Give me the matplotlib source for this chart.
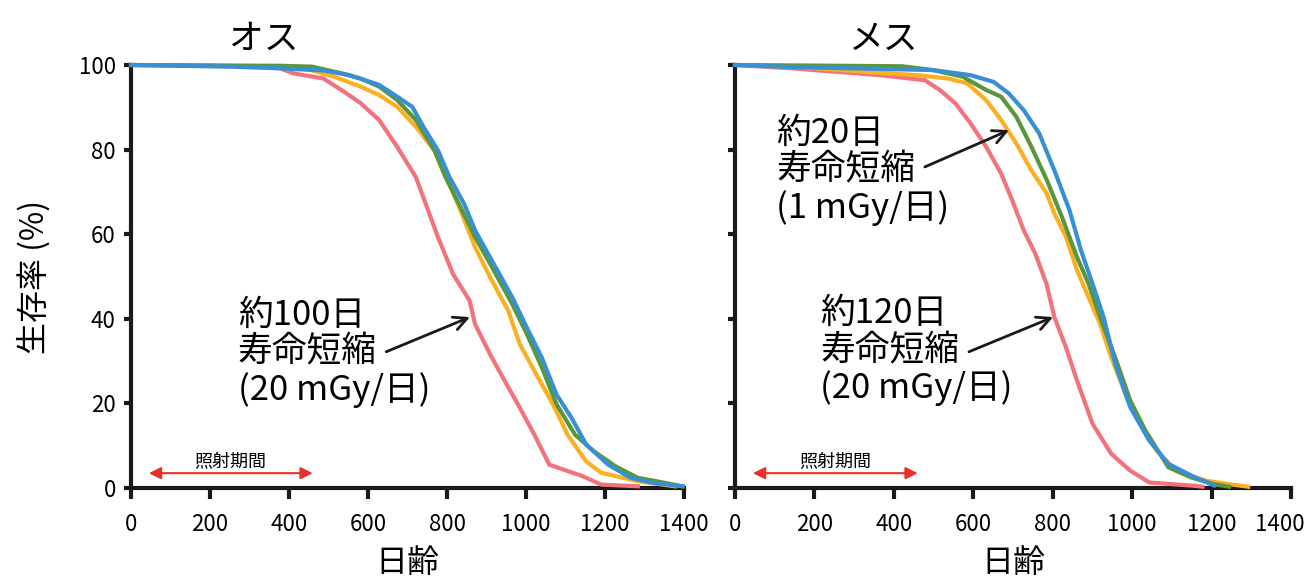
import matplotlib
matplotlib.use("Agg")
import matplotlib.pyplot as plt
import matplotlib.transforms as mtransforms

plt.rcParams['font.family'] = ['Noto Sans CJK JP', 'DejaVu Sans']

# ---- Male (オス) survival curves: day, survival %
m_red_day = [0, 365, 412, 487, 534, 581, 628, 674, 721, 749, 777, 815, 857, 871, 909, 946, 984, 1021, 1059, 1096, 1143, 1190, 1283]
m_red_sv = [100, 99.6, 98, 96.8, 94, 91, 87, 80.6, 73.5, 66.4, 59.3, 50.6, 44.3, 38.7, 31.6, 25.3, 19, 12.6, 5.5, 4.3, 2.8, 0.8, 0.4]
m_org_day = [0, 300, 440, 515, 581, 628, 674, 721, 768, 806, 834, 871, 909, 955, 984, 1021, 1068, 1105, 1152, 1190, 1283, 1377]
m_org_sv = [100, 99.7, 99.2, 97.2, 94.9, 92.9, 90.1, 85.4, 79.8, 71.9, 65.6, 56.9, 49.8, 41.9, 34, 27.7, 19.8, 12.6, 6.3, 3.6, 1.6, 0.4]
m_grn_day = [0, 384, 459, 534, 581, 628, 674, 721, 768, 796, 834, 871, 909, 965, 1002, 1040, 1077, 1124, 1171, 1227, 1283, 1330, 1396]
m_grn_sv = [100, 99.8, 99.6, 98, 96.8, 94.9, 91.7, 87, 79.8, 73.5, 66.4, 59.3, 53, 43.5, 36.4, 28.5, 19.8, 12.6, 8.7, 5.1, 2.4, 1.6, 0.4]
m_blu_day = [0, 253, 375, 487, 553, 628, 674, 712, 740, 777, 806, 843, 871, 918, 965, 1002, 1040, 1077, 1115, 1152, 1208, 1265, 1321, 1396]
m_blu_sv = [100, 99.6, 99.2, 98.7, 97.6, 95.3, 92.5, 90.1, 85.4, 79.8, 73.5, 67.2, 60.9, 53, 45.1, 37.9, 30.8, 22.1, 16.6, 10.3, 5.5, 2.4, 1.2, 0.4]

# ---- Female (メス) survival curves
f_red_day = [0, 144, 364, 478, 517, 555, 593, 632, 670, 698, 727, 756, 784, 804, 833, 861, 900, 947, 995, 1043, 1158, 1177]
f_red_sv = [100, 99.2, 97.6, 96.4, 94, 90.9, 86.2, 80.7, 74.3, 68, 60.9, 55.4, 48.3, 40.4, 33.3, 25.4, 15.2, 8.1, 4.1, 1.3, 0.5, 0.3]
f_org_day = [0, 144, 325, 459, 536, 584, 632, 670, 708, 746, 785, 804, 833, 861, 890, 919, 947, 986, 1024, 1062, 1110, 1187, 1244, 1292]
f_org_sv = [100, 99.6, 98.4, 97.6, 96.8, 95.7, 91.7, 87, 81.5, 75.1, 69.6, 64.9, 59.4, 51.5, 45.1, 38.8, 30.9, 21.5, 14.4, 8.8, 4.1, 1.7, 0.9, 0.3]
f_grn_day = [0, 421, 498, 574, 632, 670, 708, 746, 785, 823, 861, 890, 919, 957, 995, 1033, 1091, 1148, 1206, 1244]
f_grn_sv = [100, 99.7, 98.8, 97.2, 94.1, 92.5, 87.8, 80.7, 72.8, 64.1, 54.6, 48.3, 40.4, 30.9, 20.7, 13.6, 4.9, 2.5, 0.9, 0.3]
f_blu_day = [0, 144, 498, 593, 651, 689, 727, 766, 804, 842, 871, 900, 928, 957, 995, 1043, 1091, 1158, 1206]
f_blu_sv = [100, 99.5, 98.8, 97.6, 96, 93.3, 89.3, 83.8, 75.1, 65.7, 56.2, 48.3, 40.4, 29.4, 19.1, 11.2, 5.7, 2.5, 0.6]

x_ticks = [0, 200, 400, 600, 800, 1000, 1200, 1400]
y_ticks = [0, 20, 40, 60, 80, 100]
titles = ['オス', 'メス']

C_RED = '#F2737B'
C_ORG = '#FBB022'
C_GRN = '#5B963D'
C_BLU = '#3890D4'

fig = plt.figure(figsize=(13.13, 5.87), dpi=100)
ax1 = fig.add_axes([0.0998, 0.1687, 0.4212, 0.7206])
ax2 = fig.add_axes([0.5598, 0.1687, 0.4235, 0.7206])

male = [(m_red_day, m_red_sv, C_RED), (m_org_day, m_org_sv, C_ORG),
        (m_grn_day, m_grn_sv, C_GRN), (m_blu_day, m_blu_sv, C_BLU)]
female = [(f_red_day, f_red_sv, C_RED), (f_org_day, f_org_sv, C_ORG),
          (f_grn_day, f_grn_sv, C_GRN), (f_blu_day, f_blu_sv, C_BLU)]

for ax, series, title, tx in [(ax1, male, titles[0], 0.24), (ax2, female, titles[1], 0.266)]:
    for d, s, c in series:
        ax.plot(d, s, color=c, lw=3, clip_on=False, solid_joinstyle='miter')
    ax.set_xlim(0, 1400)
    ax.set_ylim(0, 100)
    for sp in ['top', 'right']:
        ax.spines[sp].set_visible(False)
    for sp in ['left', 'bottom']:
        ax.spines[sp].set_linewidth(3)
        ax.spines[sp].set_color('#1a1a1a')
        ax.spines[sp].set_zorder(1)
    ax.set_xticks(x_ticks)
    ax.set_xticklabels([str(v) for v in x_ticks], fontsize=16)
    ax.set_yticks(y_ticks)
    ax.tick_params(axis='x', direction='out', length=8, width=3, pad=10, color='#1a1a1a')
    ax.tick_params(axis='y', direction='out', length=5, width=3, pad=6, color='#1a1a1a')
    ax.set_xlabel('日齢', fontsize=23, labelpad=8)
    ax.set_title(title, fontsize=25, x=tx, pad=12)
    # irradiation period
    ax.annotate('', xy=(460, 3.5), xytext=(45, 3.5),
                arrowprops=dict(arrowstyle='<|-|>', color='#E8302A', lw=1.5,
                                mutation_scale=18, shrinkA=0, shrinkB=0))
    ax.text(252, 4.3, '照射期間', fontsize=13, ha='center', va='bottom')

# keep the last tick label of the right panel inside the figure
last = ax2.get_xticklabels()[-1]
last.set_transform(last.get_transform() + mtransforms.ScaledTranslation(-8 / 72, 0, fig.dpi_scale_trans))

ax1.set_yticklabels([str(v) for v in y_ticks], fontsize=16)
ax2.set_yticklabels([])
ax1.set_ylabel('生存率 (%)', fontsize=23, labelpad=20)

ann_kw = dict(fontsize=25, ha='left', va='center', linespacing=1.08)
arrow_kw = dict(arrowstyle='->', color='#1a1a1a', lw=2, mutation_scale=24, shrinkA=0, shrinkB=0)

ax1.annotate('', xy=(858, 40.4), xytext=(646, 32.2), arrowprops=arrow_kw)
ax1.text(270, 32, '約100日\n寿命短縮\n(20 mGy/日)', **ann_kw)

ax2.annotate('', xy=(690, 84.6), xytext=(478, 75.9), arrowprops=arrow_kw)
ax2.text(104, 75, '約20日\n寿命短縮\n(1 mGy/日)', **ann_kw)

ax2.annotate('', xy=(801, 40.4), xytext=(589, 32.2), arrowprops=arrow_kw)
ax2.text(214, 32.3, '約120日\n寿命短縮\n(20 mGy/日)', **ann_kw)

fig.savefig('out.png', dpi=100)
